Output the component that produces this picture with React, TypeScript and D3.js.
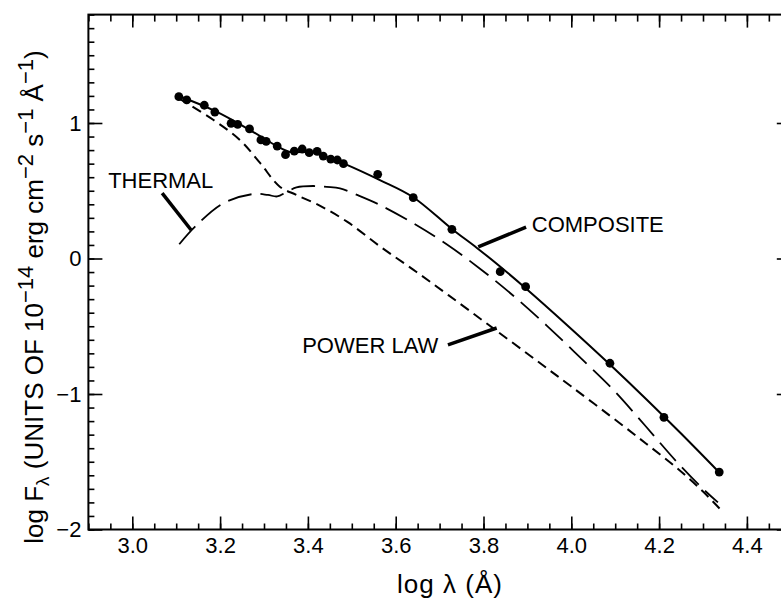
import React, { useEffect, useRef } from 'react'
import * as d3 from 'd3'

const width = 781
const height = 604

// observed points, log lambda (A) and log F_lambda
const obsLogLam = [3.106, 3.124, 3.164, 3.188, 3.225, 3.240, 3.267, 3.293, 3.305, 3.330, 3.349, 3.369, 3.387, 3.403, 3.421, 3.435, 3.452, 3.467, 3.481, 3.559, 3.640, 3.728, 3.838, 3.896, 4.088, 4.211, 4.337]
const obsLogF = [1.194, 1.170, 1.131, 1.081, 0.998, 0.990, 0.956, 0.875, 0.865, 0.830, 0.766, 0.793, 0.808, 0.781, 0.791, 0.756, 0.734, 0.727, 0.700, 0.621, 0.449, 0.215, -0.097, -0.208, -0.773, -1.172, -1.576]

// model curves
const compositeLam = [3.106, 3.188, 3.268, 3.325, 3.359, 3.405, 3.450, 3.485, 3.564, 3.639, 3.728, 3.785, 3.837, 3.896, 3.990, 4.088, 4.172, 4.250, 4.337]
const compositeF = [1.199, 1.089, 0.948, 0.838, 0.786, 0.786, 0.742, 0.697, 0.579, 0.454, 0.218, 0.078, -0.057, -0.219, -0.490, -0.782, -1.042, -1.292, -1.579]

const powerLam = [3.106, 3.185, 3.245, 3.291, 3.336, 3.374, 3.430, 3.490, 3.564, 3.639, 3.720, 3.820, 3.930, 4.000, 4.090, 4.170, 4.240, 4.300, 4.339]
const powerF = [1.182, 1.022, 0.875, 0.705, 0.530, 0.469, 0.385, 0.270, 0.090, -0.080, -0.270, -0.510, -0.775, -0.945, -1.165, -1.365, -1.545, -1.720, -1.850]

const thermalLam = [3.107, 3.143, 3.207, 3.276, 3.309, 3.330, 3.351, 3.374, 3.412, 3.443, 3.473, 3.512, 3.564, 3.640, 3.716, 3.792, 3.868, 3.944, 4.020, 4.096, 4.170, 4.240, 4.300, 4.334]
const thermalF = [0.105, 0.235, 0.407, 0.476, 0.469, 0.458, 0.489, 0.525, 0.535, 0.528, 0.518, 0.469, 0.395, 0.260, 0.105, -0.075, -0.275, -0.495, -0.730, -0.970, -1.240, -1.500, -1.700, -1.800]

const xMajor = [3.0, 3.2, 3.4, 3.6, 3.8, 4.0, 4.2, 4.4]
const xMajorLabels = ['3.0', '3.2', '3.4', '3.6', '3.8', '4.0', '4.2', '4.4']
const yMajor = [-2, -1, 0, 1]
const yMajorLabels = ['\u22122', '\u22121', '0', '1']

const font = '"Liberation Sans", Arial, sans-serif'

const App = () => {
  const axRef = useRef<SVGGElement>(null)

  const x = d3.scaleLinear().domain([2.9, 4.5]).range([88.4, 790.8])
  const y = d3.scaleLinear().domain([-2, 1.8]).range([529.5, 14.6])

  const line = d3.line<[number, number]>()
    .x(d => x(d[0]))
    .y(d => y(d[1]))
    .curve(d3.curveCatmullRom.alpha(0.5))

  const composite = line(compositeLam.map((v, i) => [v, compositeF[i]]))
  const power = line(powerLam.map((v, i) => [v, powerF[i]]))
  const thermal = line(thermalLam.map((v, i) => [v, thermalF[i]]))

  useEffect(() => {
    const g = d3.select(axRef.current)
    g.selectAll('*').remove()
    const minorX = d3.range(58, 91).map(i => i / 20)
    const minorY = d3.range(-20, 19).map(i => i / 10)

    // bottom
    g.append('g').attr('transform', `translate(0,${y(-2)})`)
      .call(d3.axisBottom(x).tickValues(minorX).tickSizeInner(-6).tickSizeOuter(0).tickFormat(() => ''))
    g.append('g').attr('transform', `translate(0,${y(-2)})`)
      .call(d3.axisBottom(x).tickValues(xMajor).tickSizeInner(-13).tickSizeOuter(0).tickPadding(8)
        .tickFormat((d, i) => xMajorLabels[i]))
    // top
    g.append('g').attr('transform', `translate(0,${y(1.8)})`)
      .call(d3.axisTop(x).tickValues(minorX).tickSizeInner(-7).tickSizeOuter(0).tickFormat(() => ''))
    g.append('g').attr('transform', `translate(0,${y(1.8)})`)
      .call(d3.axisTop(x).tickValues(xMajor).tickSizeInner(-13).tickSizeOuter(0).tickFormat(() => ''))
    // left
    g.append('g').attr('transform', `translate(${x(2.9)},0)`)
      .call(d3.axisLeft(y).tickValues(minorY).tickSizeInner(-6).tickSizeOuter(0).tickFormat(() => ''))
    g.append('g').attr('transform', `translate(${x(2.9)},0)`)
      .call(d3.axisLeft(y).tickValues(yMajor).tickSizeInner(-14).tickSizeOuter(0).tickPadding(7)
        .tickFormat((d, i) => yMajorLabels[i]))
    // right
    g.append('g').attr('transform', `translate(${x(4.5)},0)`)
      .call(d3.axisRight(y).tickValues(minorY).tickSizeInner(-6).tickSizeOuter(0).tickFormat(() => ''))
    g.append('g').attr('transform', `translate(${x(4.5)},0)`)
      .call(d3.axisRight(y).tickValues(yMajor).tickSizeInner(-14).tickSizeOuter(0).tickFormat(() => ''))

    g.selectAll('.domain').remove()
    g.selectAll('.tick line').attr('stroke', '#000').attr('stroke-width', 1.6)
    g.selectAll('.tick text').attr('fill', '#000').style('font-size', '22px').style('font-family', font)
  }, [])

  return (
    <div style={{ position: 'absolute', left: 0, top: 0 }}>
      <svg width={width} height={height} style={{ display: 'block', background: '#fff' }}>
        <rect x={x(2.9)} y={y(1.8)} width={x(4.5) - x(2.9)} height={y(-2) - y(1.8)}
          fill="none" stroke="#000" strokeWidth={2} />
        <g ref={axRef} />

        <path d={power ?? ''} fill="none" stroke="#000" strokeWidth={2} strokeDasharray="10 6" />
        <path d={thermal ?? ''} fill="none" stroke="#000" strokeWidth={1.8} strokeDasharray="24 9" />
        <path d={composite ?? ''} fill="none" stroke="#000" strokeWidth={2} />

        {obsLogLam.map((v, i) => (
          <circle key={i} cx={x(v)} cy={y(obsLogF[i])} r={4.4} fill="#000" />
        ))}

        {/* labels and pointers */}
        <g stroke="#000" strokeWidth={3.5}>
          <line x1={x(3.068)} y1={y(0.483)} x2={x(3.134)} y2={y(0.21)} />
          <line x1={x(3.897)} y1={y(0.232)} x2={x(3.788)} y2={y(0.085)} />
          <line x1={x(3.719)} y1={y(-0.638)} x2={x(3.83)} y2={y(-0.513)} />
        </g>
        <g fontFamily={font} fontSize={22} fill="#000">
          <text x={x(2.945)} y={y(0.52)}>THERMAL</text>
          <text x={x(3.91)} y={y(0.196)}>COMPOSITE</text>
          <text x={x(3.387)} y={y(-0.697)}>POWER LAW</text>
        </g>

        <text x={450} y={593} textAnchor="middle" fontFamily={font} fontSize={26} letterSpacing={1}>
          log &#955; (&#197;)
        </text>

        <text transform={`translate(43,297) rotate(-90)`} textAnchor="middle" fontFamily={font} fontSize={26}>
          log F<tspan fontSize={19} dy={6}>&#955;</tspan>
          <tspan dy={-6}> (UNITS OF 10</tspan>
          <tspan fontSize={22} dy={-10}>&#8722;14</tspan>
          <tspan dy={10}> erg cm</tspan>
          <tspan fontSize={22} dy={-10}>&#8722;2</tspan>
          <tspan dy={10}> s</tspan>
          <tspan fontSize={22} dy={-10}>&#8722;1</tspan>
          <tspan dy={10}> &#197;</tspan>
          <tspan fontSize={22} dy={-10}>&#8722;1</tspan>
          <tspan dy={10}>)</tspan>
        </text>
      </svg>
    </div>
  )
}

export default App
